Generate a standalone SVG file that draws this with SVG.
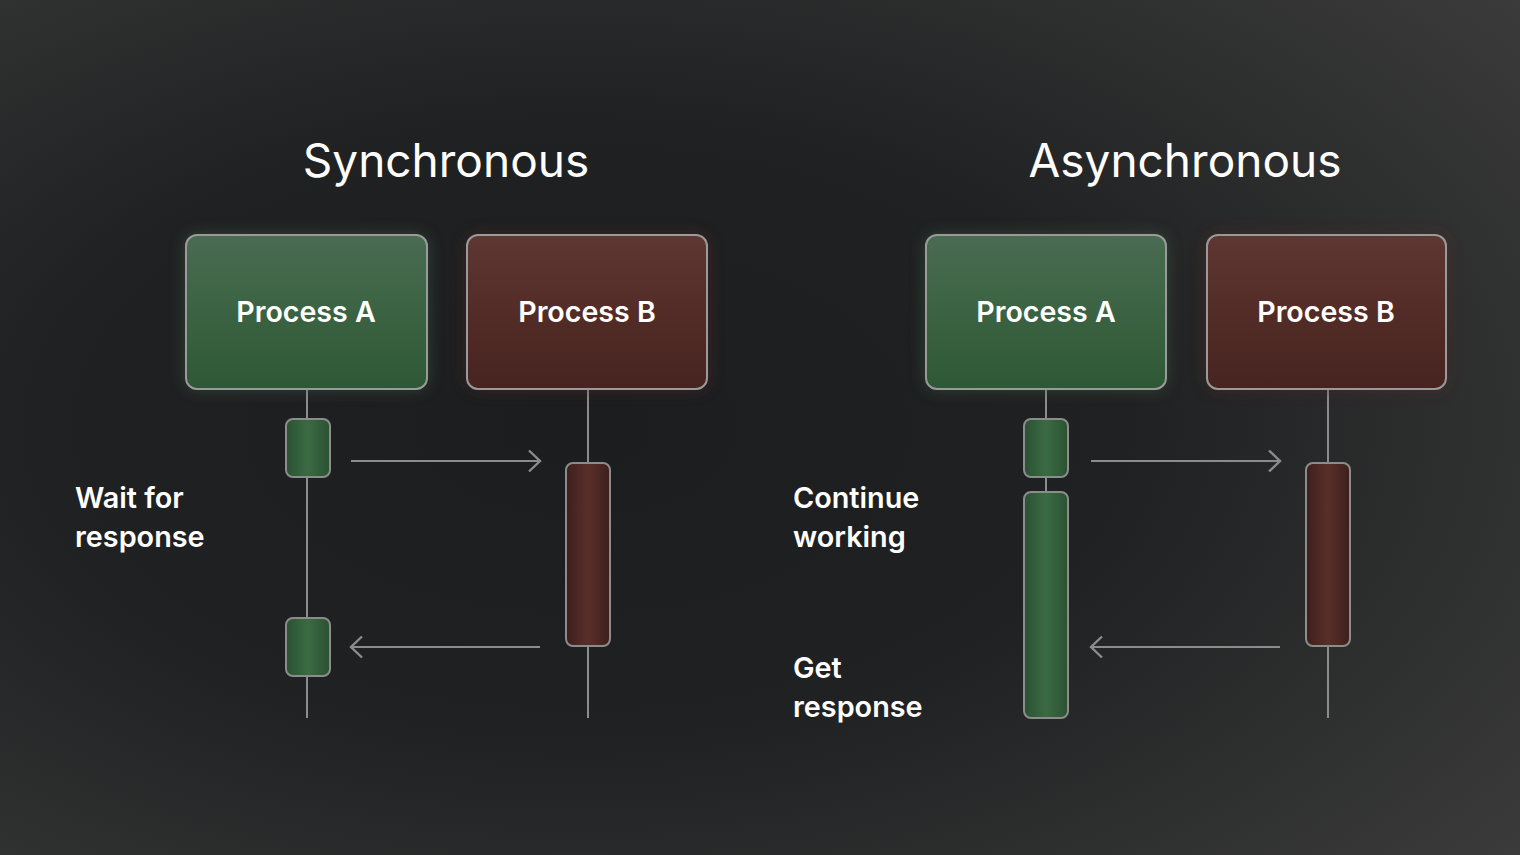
<svg xmlns="http://www.w3.org/2000/svg" width="1520" height="855" viewBox="0 0 1520 855">
<defs>
<radialGradient id="bg" cx="0.38" cy="0.5" r="0.8">
<stop offset="0" stop-color="#1c1d1f"/>
<stop offset="0.45" stop-color="#202122"/>
<stop offset="1" stop-color="#3b3b3b"/>
</radialGradient>
<linearGradient id="gA" x1="0" y1="0" x2="0" y2="1">
<stop offset="0" stop-color="#4a6b52"/>
<stop offset="0.5" stop-color="#3b6343"/>
<stop offset="1" stop-color="#2e5835"/>
</linearGradient>
<linearGradient id="gB" x1="0" y1="0" x2="0" y2="1">
<stop offset="0" stop-color="#5f3732"/>
<stop offset="0.5" stop-color="#532c27"/>
<stop offset="1" stop-color="#472420"/>
</linearGradient>
<linearGradient id="sA" x1="0" y1="0" x2="1" y2="0">
<stop offset="0" stop-color="#2b5132"/>
<stop offset="0.5" stop-color="#3a6b43"/>
<stop offset="1" stop-color="#2b5132"/>
</linearGradient>
<linearGradient id="sB" x1="0" y1="0" x2="1" y2="0">
<stop offset="0" stop-color="#3d1f1c"/>
<stop offset="0.5" stop-color="#5a2f2a"/>
<stop offset="1" stop-color="#3d1f1c"/>
</linearGradient>
<filter id="glow" x="-20%" y="-20%" width="140%" height="140%">
<feGaussianBlur stdDeviation="8"/>
</filter>
<marker id="arr" viewBox="0 0 14 24" refX="12" refY="12" markerWidth="14" markerHeight="24" markerUnits="userSpaceOnUse" orient="auto">
<path d="M1,1.5 L12,12 L1,22.5" fill="none" stroke="#8c8c8c" stroke-width="2.4"/>
</marker>
<style>
.title{font-family:Inter,"Noto Sans",sans-serif;font-size:46px;fill:#ffffff;text-anchor:middle}
.plabel{font-family:Inter,"Noto Sans",sans-serif;font-size:28.6px;font-weight:600;fill:#ffffff;text-anchor:middle}
.note{font-family:Inter,"Noto Sans",sans-serif;font-size:28.8px;font-weight:600;fill:#ffffff}
.box{stroke:#9a9a9a;stroke-width:2}
.act{stroke:#8c8c8c;stroke-width:2}
.life{stroke:#8c8c8c;stroke-width:2;fill:none}
.msg{stroke:#8c8c8c;stroke-width:2;fill:none}
</style>
</defs>
<rect width="1520" height="855" fill="url(#bg)"/>

<text class="title" x="446" y="177">Synchronous</text>
<text class="title" x="1185" y="177">Asynchronous</text>

<g id="lifelines">
<line class="life" x1="307" y1="389" x2="307" y2="718"/>
<line class="life" x1="588" y1="389" x2="588" y2="718"/>
<line class="life" x1="1046" y1="389" x2="1046" y2="718"/>
<line class="life" x1="1328" y1="389" x2="1328" y2="718"/>
</g>

<g id="sync-process-a">
<rect x="186" y="235" width="241" height="154" rx="11" fill="#3f6a48" opacity="0.55" filter="url(#glow)"/>
<rect class="box" x="186" y="235" width="241" height="154" rx="11" fill="url(#gA)"/>
<text class="plabel" x="306" y="322">Process A</text>
</g>
<g id="sync-process-b">
<rect x="467" y="235" width="240" height="154" rx="11" fill="#5a2a25" opacity="0.55" filter="url(#glow)"/>
<rect class="box" x="467" y="235" width="240" height="154" rx="11" fill="url(#gB)"/>
<text class="plabel" x="587" y="322">Process B</text>
</g>
<g id="async-process-a">
<rect x="926" y="235" width="240" height="154" rx="11" fill="#3f6a48" opacity="0.55" filter="url(#glow)"/>
<rect class="box" x="926" y="235" width="240" height="154" rx="11" fill="url(#gA)"/>
<text class="plabel" x="1046" y="322">Process A</text>
</g>
<g id="async-process-b">
<rect x="1207" y="235" width="239" height="154" rx="11" fill="#5a2a25" opacity="0.55" filter="url(#glow)"/>
<rect class="box" x="1207" y="235" width="239" height="154" rx="11" fill="url(#gB)"/>
<text class="plabel" x="1326" y="322">Process B</text>
</g>

<g id="sync-activations">
<rect class="act" x="286" y="419" width="44" height="58" rx="7" fill="url(#sA)"/>
<rect class="act" x="286" y="618" width="44" height="58" rx="7" fill="url(#sA)"/>
<rect class="act" x="566" y="463" width="44" height="183" rx="7" fill="url(#sB)"/>
</g>
<g id="async-activations">
<rect class="act" x="1024" y="419" width="44" height="58" rx="7" fill="url(#sA)"/>
<rect class="act" x="1024" y="492" width="44" height="226" rx="7" fill="url(#sA)"/>
<rect class="act" x="1306" y="463" width="44" height="183" rx="7" fill="url(#sB)"/>
</g>

<g id="connectors">
<line class="msg" x1="351" y1="461" x2="540" y2="461" marker-end="url(#arr)"/>
<line class="msg" x1="540" y1="647" x2="351" y2="647" marker-end="url(#arr)"/>
<line class="msg" x1="1091" y1="461" x2="1280" y2="461" marker-end="url(#arr)"/>
<line class="msg" x1="1280" y1="647" x2="1091" y2="647" marker-end="url(#arr)"/>
</g>

<g id="labels">
<text class="note" x="75" y="508">Wait for</text>
<text class="note" x="75" y="547">response</text>
<text class="note" x="793" y="508">Continue</text>
<text class="note" x="793" y="547">working</text>
<text class="note" x="793" y="678">Get</text>
<text class="note" x="793" y="717">response</text>
</g>
</svg>
